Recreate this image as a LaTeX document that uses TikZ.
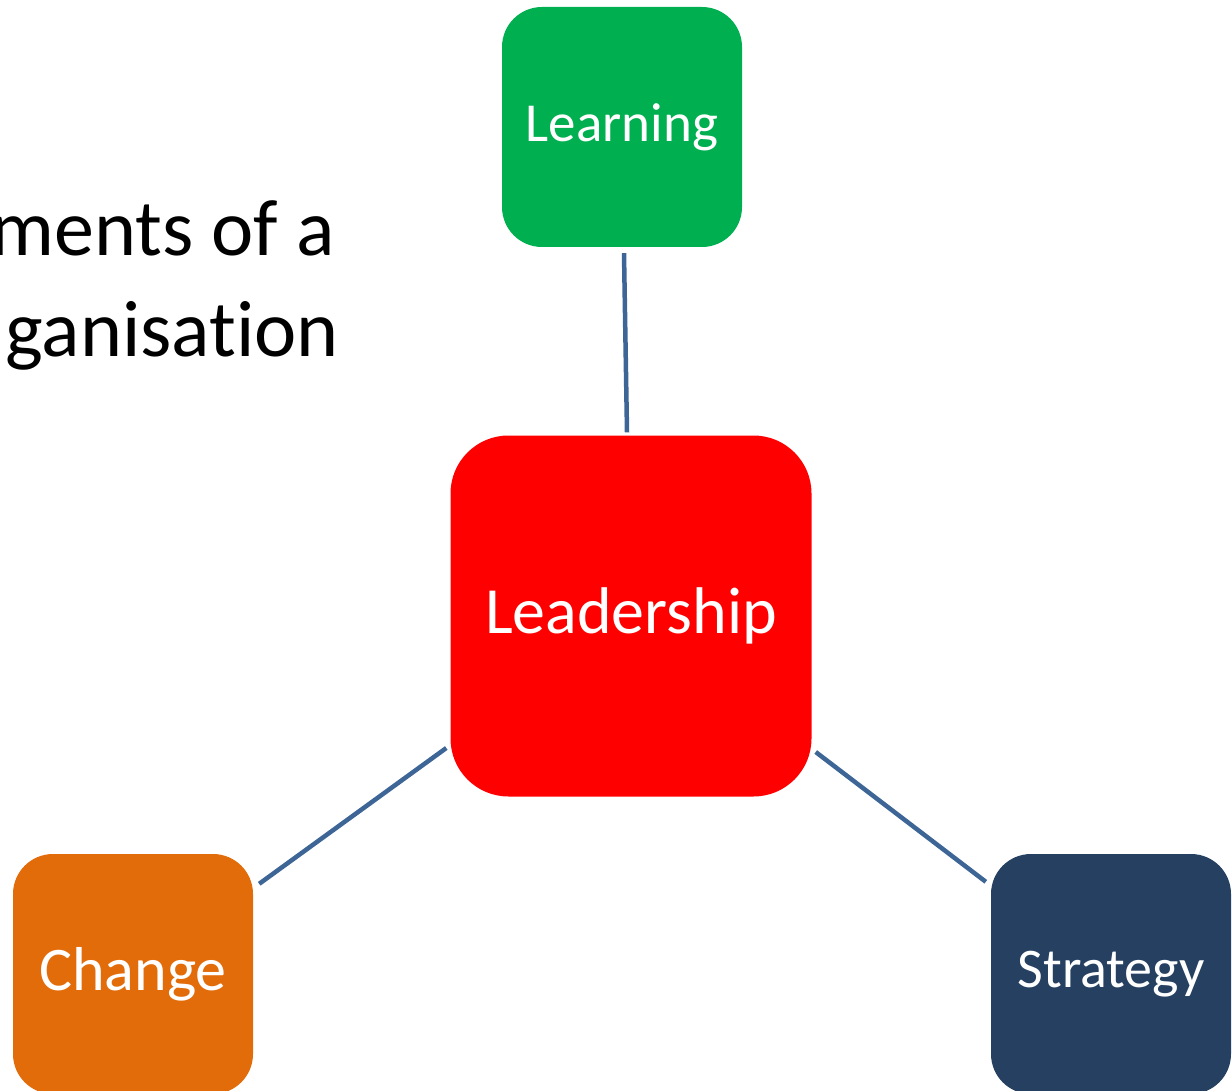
\documentclass[tikz,border=0pt]{standalone}
\usepackage{fontspec}
\setmainfont[Ligatures=NoCommon]{Carlito}
\usetikzlibrary{calc}
\definecolor{learngreen}{HTML}{00B050}
\definecolor{leadred}{HTML}{FF0000}
\definecolor{changeorange}{HTML}{E36C0A}
\definecolor{stratblue}{HTML}{254061}
\definecolor{linkblue}{HTML}{3D6697}
\tikzset{
  box/.style={draw=none, text=white, minimum width=240pt, minimum height=240pt,
    rounded corners=40pt, inner sep=0pt, align=center},
  link/.style={draw=linkblue, line width=4.5pt},
  title/.style={anchor=base east, inner sep=0pt, text=black}
}
\begin{document}
\begin{tikzpicture}[x=1pt,y=-1pt]
  \useasboundingbox (0,0) rectangle (1232,1091);
  \clip (0,0) rectangle (1232,1091);
  % heading, running off the left edge
  \node[title, font=\fontsize{80}{96}\selectfont] (t1) at (335,256) {ments of a};
  \node[title, font=\fontsize{80}{96}\selectfont] (t2) at (339,356) {ganisation};
  % boxes
  \node[box, fill=learngreen, font=\fontsize{55}{66}\selectfont] (learn) at (622,127) {Learning};
  \node[box, fill=leadred, minimum width=361pt, minimum height=361pt, rounded corners=58pt,
        font=\fontsize{66}{79}\selectfont] (lead) at (631,616) {Leadership};
  \node[box, fill=changeorange, font=\fontsize{62}{74}\selectfont] (chg) at (133,974) {Change};
  \node[box, fill=stratblue, font=\fontsize{56}{67}\selectfont] (strat) at (1111,974) {Strategy};
  % connectors
  \draw[link] ($(learn.south)+(2,6)$) -- ($(lead.north)+(-4,-3)$);
  \draw[link] ($(chg.north east)+(6,30)$) -- ($(lead.west)+(-4,132)$);
  \draw[link] ($(lead.east)+(4,136)$) -- ($(strat.north west)+(-5,28)$);
\end{tikzpicture}
\end{document}
